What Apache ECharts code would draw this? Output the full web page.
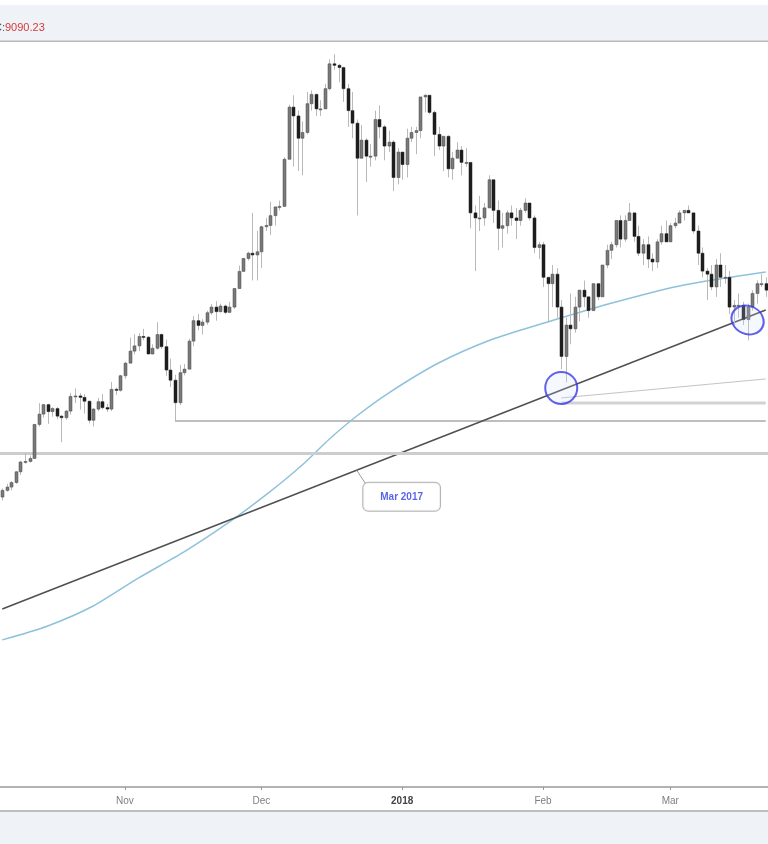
<!DOCTYPE html>
<html><head><meta charset="utf-8">
<script src="https://cdn.jsdelivr.net/npm/echarts@6/dist/echarts.min.js"></script>
<style>html,body{margin:0;padding:0;background:#fff;}#c{width:768px;height:844px;}</style>
</head><body><div id="c"></div>
<script>
// ---------- data ----------
const firstDay = '2017-10-05';
const dayCount = 169;
const opens = [
 4220,4320,4370,4440,4610,4770,4780,4830,5440,5640,5830,5690,5750,5600,5570,5700,6000,6010,5980,5900,5520,5740,5890,5770,5740,6150,6130,
 6450,6740,7030,7160,7400,7380,6960,7100,7450,7140,6580,6350,5870,6520,6600,7280,7820,7690,7780,8040,8200,8070,8230,8050,8200,8750,9290,9720,9900,9840,
 9950,10860,10910,11290,11640,11660,13750,16500,16000,14800,15100,16700,17250,16400,16400,17600,19200,19100,18950,17600,16300,15600,13800,14700,13900,13900,15800,15400,14400,14600,12900,
 14100,13500,14800,15100,15200,17100,17200,16200,15000,14400,14900,13300,13800,14200,13600,13600,11400,11200,11200,11600,12800,11500,10800,10900,11400,11200,11100,11500,11800,11200,10100,
 10200,9100,8900,9200,8200,6900,7700,7600,8200,8700,8500,8100,8900,8500,9500,10000,10200,11100,10400,11100,11400,10500,9900,10200,9700,9600,10300,10600,
 10300,10900,11000,11400,11500,11400,10700,9900,9300,9200,8800,9500,9100,9100,8200,8250,8250,7850,8200,8600,8900,8900
];
const highs = [
 4350,4420,4460,4620,4790,4920,4880,5450,5860,5840,5850,5780,5780,5620,5720,6070,6170,6070,6050,5910,5760,5970,6050,5850,6310,6190,6470,
 6770,7370,7460,7490,7600,7410,7200,7780,7480,7320,6850,6470,6700,6720,7340,7950,8000,7860,8100,8290,8370,8300,8270,8350,8770,9480,9740,9950,11400,10700,
 10900,11200,11850,11650,11900,13850,16650,17200,16300,15700,17400,17500,17300,16900,17900,19500,19850,19200,19000,17900,17400,15800,15500,14800,14500,16300,16600,15500,15200,14700,14300,
 14100,15300,15400,15400,17100,17250,17200,16300,15400,14900,14950,14100,14600,14400,14300,13600,11700,12100,11800,13000,12800,11900,11400,11500,11700,11600,11600,12000,11800,11300,10300,
 10300,9100,9500,9400,8400,7900,8600,8500,8700,9000,8500,8900,8900,9500,10200,10300,11100,11300,11300,11800,11400,10900,10400,10500,9900,10400,10900,11100,
 11000,11200,11500,11500,11700,11400,10900,10100,9400,9500,9700,9900,9500,9300,8400,8600,8350,8300,8700,9000,9200,9100
];
const lows = [
 4170,4300,4320,4420,4560,4740,4760,4830,5400,5570,5450,5590,5540,5110,5530,5630,5860,5730,5650,5460,5400,5700,5730,5680,5700,6030,6100,
 6380,6740,6950,7030,7300,6950,6950,7070,7080,6440,6200,5500,5820,6460,6600,7150,7560,7450,7710,7980,7820,8050,8000,8030,8150,8750,9290,9650,9000,9000,
 9400,10700,10550,10900,11500,11660,13750,13400,13200,13000,15000,16300,16000,16000,16400,17500,18800,18000,16800,15400,14800,11300,13800,12700,13400,13700,14800,13700,14100,12300,12600,
 12800,12900,14600,14000,14800,16200,16100,13900,14200,13200,12900,12800,13800,13000,13400,10800,9300,10700,10900,11600,11000,10000,10100,10600,10900,10400,10900,11400,11100,9900,9700,
 8800,7800,8200,7900,6600,6300,7200,7500,7800,8200,7900,8100,8400,8500,9400,9700,10100,10100,10300,11100,10300,9800,9500,9400,9300,9400,10200,10300,
 10300,10800,11000,11100,11400,10600,9500,9100,8400,8700,8500,8800,8900,8000,7700,7900,7700,7300,8100,8300,8800,8500
];
const closes = [
 4320,4370,4440,4610,4770,4780,4830,5440,5640,5830,5690,5750,5600,5570,5700,6000,6010,5980,5900,5520,5740,5890,5770,5740,6150,6130,6450,
 6740,7030,7160,7400,7380,6960,7100,7450,7140,6580,6350,5870,6520,6600,7280,7820,7690,7780,8040,8200,8070,8230,8050,8200,8750,9290,9720,9900,9840,9950,
 10860,10910,11290,11640,11660,13750,16500,16000,14800,15100,16700,17250,16400,16400,17600,19200,19100,18950,17600,16300,15600,13800,14700,13900,13900,15800,15400,14400,14600,12900,14100,
 13500,14800,15100,15200,17100,17200,16200,15000,14400,14900,13300,13800,14200,13600,13600,11400,11200,11200,11600,12800,11500,10800,10900,11400,11200,11100,11500,11800,11200,10100,10200,
 9100,8900,9200,8200,6900,7700,7600,8200,8700,8500,8100,8900,8500,9500,10000,10200,11100,10400,11100,11400,10500,9900,10200,9700,9600,10300,10600,10300,
 10900,11000,11400,11500,11400,10700,9900,9300,9200,8800,9500,9100,9100,8200,8250,8250,7850,8200,8600,8900,8900,8700
];
// 200-day moving average, read at sample dates
const maDates  = ['2017-10-05','2017-10-15','2017-10-25','2017-11-04','2017-11-14','2017-11-24','2017-12-02','2017-12-10','2017-12-16','2017-12-22','2017-12-29','2018-01-09','2018-01-21','2018-02-02','2018-02-17','2018-03-04','2018-03-22'];
const maValues = [2561,2689,2883,3180,3483,3868,4251,4721,5170,5603,6072,6744,7334,7785,8346,8858,9271];
// drawn annotation levels
const trendDates  = ['2017-10-05','2018-03-22'];
const trendValues = [2853, 8118];
const novLowDates = ['2017-11-12','2018-03-22'];
const novLowValue = 5505;
const supportLevel = 4925;
const febFlatDates = ['2018-02-05','2018-03-22'];
const febFlatValue = 5865;
const febRiseDates = ['2018-02-05','2018-03-22'];
const febRiseValues = [5968, 6378];
const circleDates = ['2018-02-05','2018-03-18'];
const circleValues = [6180, 7839];
const calloutDate = '2017-12-22';
const calloutValue = 4633;
const calloutTail = [['2017-12-22',4633],['2017-12-24',4418]];
const calloutText = 'Mar 2017';
const headerLabel = 'C:';
const headerValue = '9090.23';
const monthNames = ['2018','Feb','Mar','Apr','May','Jun','Jul','Aug','Sep','Oct','Nov','Dec'];

// ---------- build ----------
const dates = [];
const d0 = new Date(firstDay + 'T00:00:00Z');
for (let i = 0; i < dayCount; i++) {
  dates.push(new Date(d0.getTime() + i * 86400000).toISOString().slice(0, 10));
}
const candleData = dates.map((d, i) => [i, opens[i], closes[i], lows[i], highs[i]]);

function renderCandle(params, api) {
  const i = api.value(0), o = api.value(1), c = api.value(2), l = api.value(3), h = api.value(4);
  const pO = api.coord([i, o]), pC = api.coord([i, c]), pL = api.coord([i, l]), pH = api.coord([i, h]);
  const cx = Math.round(pO[0]);
  const top = Math.min(pO[1], pC[1]), bot = Math.max(pO[1], pC[1]);
  const up = c >= o;
  return {
    type: 'group',
    children: [
      { type: 'line', shape: { x1: cx + 0.5, y1: pH[1], x2: cx + 0.5, y2: pL[1] },
        style: { stroke: '#b9b9b9', lineWidth: 1 } },
      { type: 'rect', shape: { x: cx - 1, y: top, width: 3, height: Math.max(1, bot - top) },
        style: { fill: up ? '#7a7a7a' : '#1e1e1e', stroke: up ? '#4a4a4a' : '#1e1e1e', lineWidth: 0.5 } }
    ]
  };
}

const isFirst = (i, v) => v.slice(8) === '01';
const chart = echarts.init(document.getElementById('c'), null, { renderer: 'canvas' });
chart.setOption({
  backgroundColor: '#ffffff',
  animation: false,
  grid: { left: -2, width: 770, top: 42, bottom: 57, containLabel: false },
  xAxis: {
    type: 'category', data: dates, boundaryGap: true,
    axisLine: { lineStyle: { color: '#b3b3b3', width: 2 } },
    axisTick: { show: true, alignWithLabel: true, interval: isFirst, length: 3, lineStyle: { color: '#999' } },
    axisLabel: {
      interval: isFirst, color: '#7f7f7f', fontSize: 10, margin: 9, fontFamily: 'Liberation Sans',
      formatter: v => v.slice(5, 7) === '01' ? '{y|2018}' : monthNames[parseInt(v.slice(5, 7), 10) - 1],
      rich: { y: { fontWeight: 'bold', color: '#444', fontSize: 10, fontFamily: 'Liberation Sans' } }
    },
    splitLine: { show: false }
  },
  yAxis: { type: 'log', logBase: 10, min: 1531, max: 20721, show: false, splitLine: { show: false } },
  series: [
    { type: 'line', name: 'support', data: [], symbol: 'none', z: 1,
      markLine: { silent: true, symbol: 'none', label: { show: false },
        lineStyle: { color: '#cdcdcd', width: 3, type: 'solid' },
        data: [{ yAxis: supportLevel }] } },
    { type: 'line', name: 'novLow', data: novLowDates.map(d => [d, novLowValue]), symbol: 'none', z: 2,
      lineStyle: { color: '#a8a8a8', width: 1.5 } },
    { type: 'line', name: 'febFlat', data: febFlatDates.map(d => [d, febFlatValue]), symbol: 'none', z: 2,
      lineStyle: { color: '#d2d2d2', width: 3 } },
    { type: 'line', name: 'febRise', data: febRiseDates.map((d, i) => [d, febRiseValues[i]]), symbol: 'none', z: 2,
      lineStyle: { color: '#c4c4c4', width: 1 } },
    { type: 'line', name: 'ma200', data: maDates.map((d, i) => [d, maValues[i]]), symbol: 'none', smooth: 0.25,
      z: 3, lineStyle: { color: '#8ec2dc', width: 1.5 } },
    { type: 'line', name: 'trend', data: trendDates.map((d, i) => [d, trendValues[i]]), symbol: 'none', z: 3,
      lineStyle: { color: '#505050', width: 1.5 } },
    { type: 'line', name: 'tail', data: calloutTail, symbol: 'none', z: 4,
      lineStyle: { color: '#9a9a9a', width: 1 } },
    { type: 'custom', name: 'BTC', renderItem: renderCandle, data: candleData, clip: true, z: 5,
      encode: { x: 0, y: [1, 2, 3, 4] } },
    { type: 'scatter', name: 'circles', z: 6,
      data: [
        { value: [circleDates[0], circleValues[0]], symbolSize: 32 },
        { value: [circleDates[1], circleValues[1]], symbolSize: [33, 28], symbolRotate: -25 }
      ],
      symbol: 'circle',
      itemStyle: { color: 'rgba(205,218,248,0.25)', borderColor: '#3a3ae6', borderWidth: 2 } },
    { type: 'scatter', name: 'callout', z: 7, symbolSize: 1, itemStyle: { color: 'rgba(0,0,0,0)' },
      data: [[calloutDate, calloutValue]],
      label: { show: true, formatter: calloutText, position: [7, 13], align: 'left', verticalAlign: 'top',
        color: '#2f3fe0', fontWeight: 'bold', fontSize: 10, fontFamily: 'Liberation Sans',
        backgroundColor: '#ffffff', borderColor: '#a0a0a0', borderWidth: 1, borderRadius: 5,
        padding: [9, 17, 9, 17] } }
  ],
  graphic: [
    { type: 'rect', shape: { x: 0, y: 5, width: 768, height: 36 }, style: { fill: '#eff2f6' }, silent: true },
    { type: 'rect', shape: { x: 0, y: 40.5, width: 768, height: 1.5 }, style: { fill: '#b9b9b9' }, silent: true },
    { type: 'rect', shape: { x: 0, y: 810, width: 768, height: 2 }, style: { fill: '#bdbdbd' }, silent: true },
    { type: 'rect', shape: { x: 0, y: 812, width: 768, height: 32 }, style: { fill: '#eff2f6' }, silent: true },
    { type: 'text', x: -6, y: 22, style: {
        text: '{a|' + headerLabel + '}{b|' + headerValue + '}',
        rich: { a: { fill: '#555', fontSize: 11, fontFamily: 'Liberation Sans' },
                b: { fill: '#d23c3c', fontSize: 11, fontFamily: 'Liberation Sans' } } } }
  ]
});
</script></body></html>
